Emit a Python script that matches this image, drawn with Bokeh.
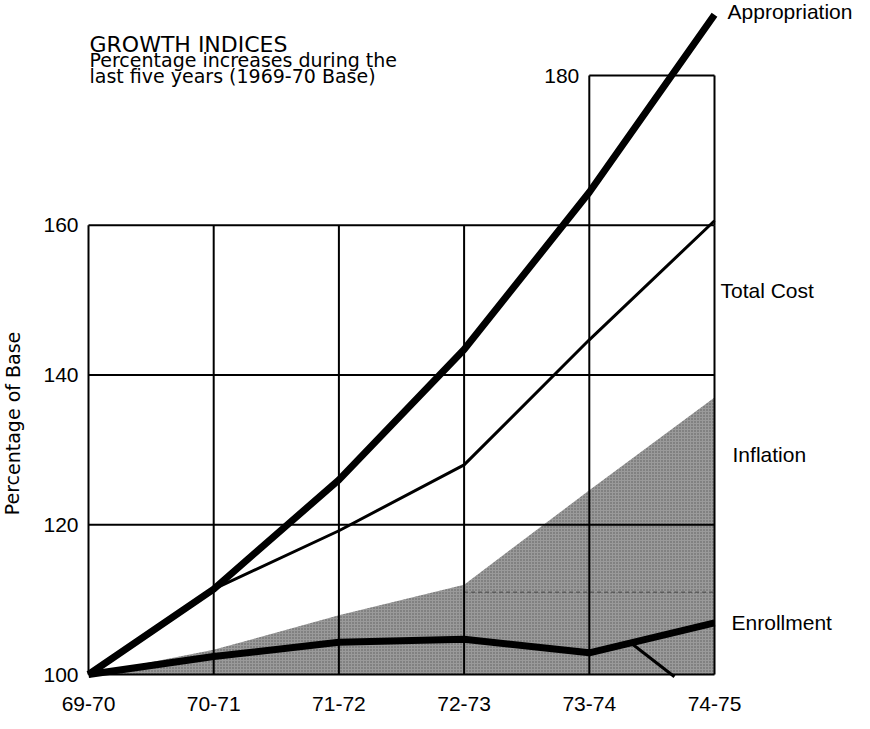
from bokeh.plotting import figure
from bokeh.models import Range1d
from bokeh.core.properties import value
from bokeh.embed import file_html
from bokeh.resources import INLINE

# ---- data ----
years = ["69-70", "70-71", "71-72", "72-73", "73-74", "74-75"]
appropriation = [100, 111.4, 126.0, 143.4, 164.4, 188.1]
total_cost = [100, 111.4, 119.2, 128.0, 144.7, 160.6]
enrollment = [100, 102.4, 104.3, 104.7, 102.9, 106.9]
inflation = [100, 103.3, 107.9, 112.0, 124.6, 137.0]
y_ticks = [100, 120, 140, 160]
top_tick = 180
minor_level = 111
series_names = ["Appropriation", "Total Cost", "Inflation", "Enrollment"]
title = "GROWTH INDICES"
subtitle = ["Percentage increases during the", "last five years (1969-70 Base)"]
y_title = "Percentage of Base"
leader_x = [4.34, 4.68]
leader_y = [104.1, 99.7]

xs = list(range(len(years)))
x0, x1 = xs[0], xs[-1]

PXX = 125.2
PXY = 7.4875
W, H = 854, 713
p = figure(width=W, height=H, output_backend="svg", toolbar_location=None,
           x_range=Range1d(-88 / PXX, (W - 88) / PXX),
           y_range=Range1d(100 - 39 / PXY, 100 + 674 / PXY),
           x_axis_type=None, y_axis_type=None, min_border=0)
p.outline_line_color = None
p.grid.visible = False
p.background_fill_color = "white"
p.border_fill_color = "white"

LAB = value("Liberation Sans")
REG = value("DejaVu Sans")

# inflation shaded area
p.patch(xs + [x1, x0], inflation + [100, 100], fill_color="#9a9a9a",
        line_color=None, hatch_pattern="dot", hatch_color="#2e2e2e",
        hatch_scale=3, hatch_weight=1, hatch_alpha=0.6)
p.line([xs[3], xs[5]], [minor_level, minor_level], line_color="#444444",
       line_width=1, line_dash="4 3")

# grid
p.segment(x0=[x0] * len(y_ticks), y0=y_ticks, x1=[x1] * len(y_ticks), y1=y_ticks,
          line_color="black", line_width=2)
p.segment(x0=xs, y0=[100] * len(xs), x1=xs, y1=[y_ticks[-1]] * len(xs),
          line_color="black", line_width=2)
p.segment(x0=[xs[-2], xs[-1], xs[-2]], y0=[y_ticks[-1], y_ticks[-1], top_tick],
          x1=[xs[-2], xs[-1], xs[-1]], y1=[top_tick, top_tick, top_tick],
          line_color="black", line_width=2)

# series
p.line(xs, total_cost, line_color="black", line_width=3, line_join="round")
p.line(xs, appropriation, line_color="black", line_width=7, line_join="round")
p.line(xs, enrollment, line_color="black", line_width=7, line_join="round")
p.line(leader_x, leader_y, line_color="black", line_width=3)

# tick labels
p.text(x=[x0 - 0.08] * len(y_ticks), y=y_ticks, text=[str(t) for t in y_ticks],
       text_align="right", text_baseline="middle", text_font=LAB,
       text_font_size="21px", text_color="black")
p.text(x=[xs[-2] - 0.08], y=[top_tick], text=[str(top_tick)],
       text_align="right", text_baseline="middle", text_font=LAB,
       text_font_size="21px", text_color="black")
p.text(x=xs, y=[100 - 29 / PXY] * len(xs), text=years,
       text_align="center", text_baseline="middle", text_font=LAB,
       text_font_size="21px", text_color="black")

# series labels
p.text(x=[5.104, 5.048, 5.144, 5.136], y=[188.5, 151.3, 129.4, 106.9],
       text=series_names, text_align="left", text_baseline="middle",
       text_font=LAB, text_font_size="21px", text_color="black")

# title and subtitle
p.text(x=[0.008], y=[100 + (682 - 52) / PXY], text=[title], text_align="left",
       text_baseline="alphabetic", text_font=REG, text_font_size="22px",
       text_color="black")
p.text(x=[0.008, 0.008], y=[100 + (682 - 67) / PXY, 100 + (682 - 83) / PXY],
       text=subtitle, text_align="left", text_baseline="alphabetic",
       text_font=REG, text_font_size="19px", text_color="black")

# y-axis title
p.text(x=[(20 - 96) / PXX], y=[100 + (682 - 431) / PXY], text=[y_title],
       angle=1.5707963, text_align="center", text_baseline="middle",
       text_font=REG, text_font_size="19px", text_color="black")

open("out.html", "w").write(file_html(p, INLINE))
